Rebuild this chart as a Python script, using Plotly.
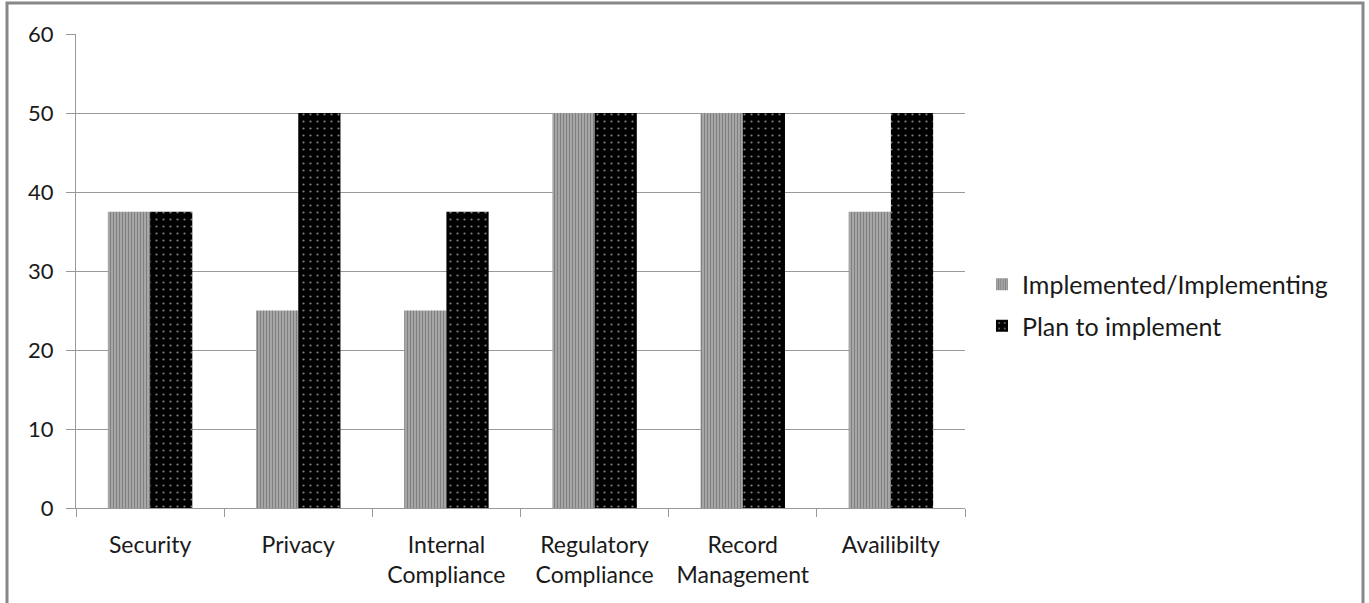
import plotly.graph_objects as go

categories = ["Security", "Privacy", "Internal<br>Compliance", "Regulatory<br>Compliance", "Record<br>Management", "Availibilty"]
implemented = [37.5, 25, 25, 50, 50, 37.5]
planned = [37.5, 50, 37.5, 50, 50, 50]
y_ticks = [0, 10, 20, 30, 40, 50, 60]

FONT = "Lato"
fig = go.Figure()
fig.add_trace(go.Bar(
    x=categories, y=implemented, name="Implemented/Implementing", legendgroup="a",
    marker=dict(color="white", line=dict(width=0),
                pattern=dict(shape="|", fgcolor="black", bgcolor="white", size=3, solidity=0.8)),
))
fig.add_trace(go.Bar(
    x=categories, y=planned, name="Plan to implement", legendgroup="b",
    marker=dict(color="black", line=dict(width=0),
                pattern=dict(shape=".", fgcolor="white", bgcolor="black", size=7, solidity=0.08)),
))

L, R, T, B = 76, 404, 34, 95
W, H = 1369, 603
pw, ph = W - L - R, H - T - B
base = H - B

fig.update_layout(
    width=W, height=H,
    margin=dict(l=L, r=R, t=T, b=B),
    paper_bgcolor="white", plot_bgcolor="white",
    barmode="group", bargap=0.43, bargroupgap=0,
    font=dict(family=FONT, size=22, color="#1a1a1a"),
    showlegend=True,
    legend=dict(x=(982 - L) / pw, y=(base - 305) / ph, xanchor="left", yanchor="middle",
                font=dict(family=FONT, size=25), traceorder="grouped", tracegroupgap=6,
                itemwidth=30),
    xaxis=dict(showline=True, linecolor="#999", linewidth=1,
               ticks="outside", ticklen=8, tickcolor="#999", tickson="boundaries",
               ticklabelstandoff=16,
               tickfont=dict(family=FONT, size=23)),
    yaxis=dict(range=[0, 60], tickvals=y_ticks, showgrid=True, gridcolor="#999", gridwidth=1,
               showline=True, linecolor="#999", linewidth=1,
               ticks="outside", ticklen=9, tickcolor="#999", ticklabelstandoff=8,
               tickfont=dict(family=FONT, size=22), zeroline=False),
)
fig.add_shape(type="rect", xref="paper", yref="paper",
              x0=(7 - L) / pw, x1=(1363 - L) / pw,
              y0=(base - 620) / ph, y1=(base - 3) / ph,
              line=dict(color="#888", width=3), fillcolor="rgba(0,0,0,0)", layer="below")
fig.write_html("out.html", post_script="document.body.style.margin='0';",
               config={"displayModeBar": False})
